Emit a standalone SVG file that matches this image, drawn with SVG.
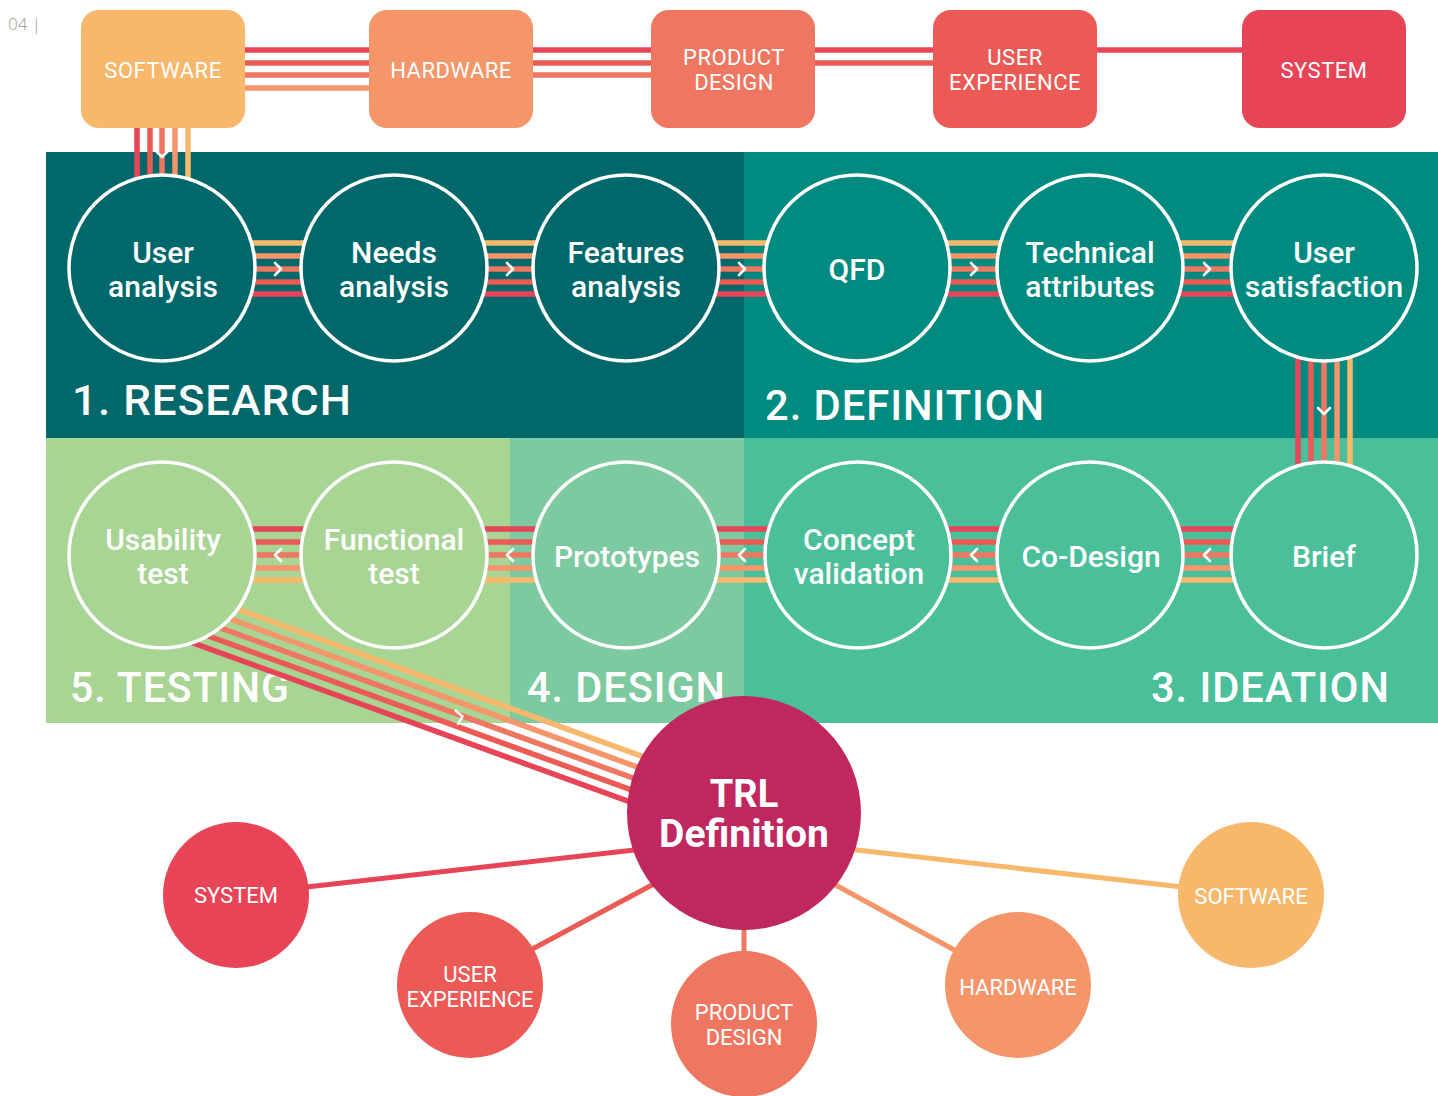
<svg xmlns="http://www.w3.org/2000/svg" width="1438" height="1096" viewBox="0 0 1438 1096">
<defs>
<style>
text{font-family:Roboto,"Open Sans","Liberation Sans",sans-serif;fill:#fff;text-anchor:middle}
.box{font-size:22px;letter-spacing:0.5px}
.lbl{font-size:30px;font-weight:500}
.sec{font-size:43px;text-anchor:start;letter-spacing:1px;font-weight:500}
.bot{font-size:22px}
.ring{stroke:#fff;stroke-width:3.5}
.c1{stroke:#F8B86C}.c2{stroke:#F4956A}.c3{stroke:#EF7660}.c4{stroke:#EB5A55}.c5{stroke:#E84457}
.ln{stroke-width:5.5;fill:none}
.thin{stroke-width:5;fill:none}
.chev{stroke:#fff;stroke-width:2.6;fill:none;stroke-linecap:round;stroke-linejoin:round}
</style>
</defs>
<rect width="1438" height="1096" fill="#fff"/>
<text x="8" y="30" style="font-size:17px;fill:#9a9a9a;text-anchor:start;font-family:'Open Sans',Roboto,sans-serif;font-weight:300">04 |</text>

<g id="sections">
<rect x="46" y="152" width="698" height="286" fill="#00676A"/>
<rect x="744" y="152" width="694" height="286" fill="#008A80"/>
<rect x="46" y="438" width="464" height="285" fill="#A8D494"/>
<rect x="510" y="438" width="234" height="285" fill="#7DC9A0"/>
<rect x="744" y="438" width="694" height="285" fill="#4ABF99"/>
<text class="sec" x="72" y="415" textLength="280" lengthAdjust="spacingAndGlyphs">1. RESEARCH</text>
<text class="sec" x="765" y="420" textLength="280" lengthAdjust="spacingAndGlyphs">2. DEFINITION</text>
<text class="sec" x="70" y="702" textLength="220" lengthAdjust="spacingAndGlyphs">5. TESTING</text>
<text class="sec" x="527" y="702" textLength="199" lengthAdjust="spacingAndGlyphs">4. DESIGN</text>
<text class="sec" x="1151" y="702" textLength="239" lengthAdjust="spacingAndGlyphs">3. IDEATION</text>
</g>

<g id="connectors">
<!-- top bar -->
<line class="ln c5" x1="200" y1="50" x2="1300" y2="50"/>
<line class="ln c4" x1="200" y1="63" x2="1000" y2="63"/>
<line class="ln c3" x1="200" y1="75" x2="700" y2="75"/>
<line class="ln c2" x1="200" y1="88" x2="420" y2="88"/>
<!-- software down -->
<line class="ln c5" x1="137" y1="110" x2="137" y2="200"/>
<line class="ln c4" x1="150" y1="110" x2="150" y2="200"/>
<line class="ln c3" x1="162" y1="110" x2="162" y2="200"/>
<line class="ln c2" x1="175" y1="110" x2="175" y2="200"/>
<line class="ln c1" x1="188" y1="110" x2="188" y2="200"/>
<polyline class="chev" points="156,151 162,157 168,151"/>
<!-- row 1 -->
<line class="ln c1" x1="162" y1="243" x2="1324" y2="243"/>
<line class="ln c2" x1="162" y1="256" x2="1324" y2="256"/>
<line class="ln c3" x1="162" y1="269" x2="1324" y2="269"/>
<line class="ln c4" x1="162" y1="282" x2="1324" y2="282"/>
<line class="ln c5" x1="162" y1="294" x2="1324" y2="294"/>
<polyline class="chev" points="275,263 281,269 275,275"/>
<polyline class="chev" points="507,263 513,269 507,275"/>
<polyline class="chev" points="739,263 745,269 739,275"/>
<polyline class="chev" points="971,263 977,269 971,275"/>
<polyline class="chev" points="1204,263 1210,269 1204,275"/>
<!-- vertical to brief -->
<line class="ln c5" x1="1298" y1="300" x2="1298" y2="520"/>
<line class="ln c4" x1="1311" y1="300" x2="1311" y2="520"/>
<line class="ln c3" x1="1324" y1="300" x2="1324" y2="520"/>
<line class="ln c2" x1="1337" y1="300" x2="1337" y2="520"/>
<line class="ln c1" x1="1350" y1="300" x2="1350" y2="520"/>
<polyline class="chev" points="1318,408 1324,414 1330,408"/>
<!-- row 2 -->
<line class="ln c5" x1="162" y1="529" x2="1324" y2="529"/>
<line class="ln c4" x1="162" y1="542" x2="1324" y2="542"/>
<line class="ln c3" x1="162" y1="555" x2="1324" y2="555"/>
<line class="ln c2" x1="162" y1="568" x2="1324" y2="568"/>
<line class="ln c1" x1="162" y1="580" x2="1324" y2="580"/>
<polyline class="chev" points="281,549 275,555 281,561"/>
<polyline class="chev" points="513,549 507,555 513,561"/>
<polyline class="chev" points="745,549 739,555 745,561"/>
<polyline class="chev" points="977,549 971,555 977,561"/>
<polyline class="chev" points="1210,549 1204,555 1210,561"/>
<!-- diagonal to TRL -->
<line class="ln c1" x1="162" y1="581.6" x2="744" y2="793.4"/>
<line class="ln c2" x1="162" y1="594.1" x2="744" y2="805.9"/>
<line class="ln c3" x1="162" y1="606.6" x2="744" y2="818.4"/>
<line class="ln c4" x1="162" y1="619.1" x2="744" y2="830.9"/>
<line class="ln c5" x1="162" y1="631.6" x2="744" y2="843.4"/>
<polyline class="chev" points="455.5,710.5 462.5,716.5 458,724" style="stroke-width:2.4"/>
<!-- TRL spokes -->
<line class="thin c5" x1="280" y1="890" x2="670" y2="846"/>
<line class="thin c4" x1="510" y1="961" x2="680" y2="870"/>
<line class="thin c3" x1="744" y1="900" x2="744" y2="970"/>
<line class="thin c2" x1="810" y1="871" x2="980" y2="964"/>
<line class="thin c1" x1="830" y1="847" x2="1200" y2="889"/>
</g>

<g id="top-software"><rect x="81" y="10" width="164" height="118" rx="18" fill="#F8B86C"/><text class="box" x="163" y="78">SOFTWARE</text></g>
<g id="top-hardware"><rect x="369" y="10" width="164" height="118" rx="18" fill="#F4956A"/><text class="box" x="451" y="78">HARDWARE</text></g>
<g id="top-product-design"><rect x="651" y="10" width="164" height="118" rx="18" fill="#EF7660"/><text class="box" x="734" y="65">PRODUCT</text><text class="box" x="734" y="90">DESIGN</text></g>
<g id="top-user-experience"><rect x="933" y="10" width="164" height="118" rx="18" fill="#EB5A55"/><text class="box" x="1015" y="65">USER</text><text class="box" x="1015" y="90">EXPERIENCE</text></g>
<g id="top-system"><rect x="1242" y="10" width="164" height="118" rx="18" fill="#E84457"/><text class="box" x="1324" y="78">SYSTEM</text></g>

<g id="user-analysis"><circle class="ring" cx="162" cy="268" r="93" fill="#00676A"/><text class="lbl" x="163" y="263">User</text><text class="lbl" x="163" y="297">analysis</text></g>
<g id="needs-analysis"><circle class="ring" cx="394" cy="268" r="93" fill="#00676A"/><text class="lbl" x="394" y="263">Needs</text><text class="lbl" x="394" y="297">analysis</text></g>
<g id="features-analysis"><circle class="ring" cx="626" cy="268" r="93" fill="#00676A"/><text class="lbl" x="626" y="263">Features</text><text class="lbl" x="626" y="297">analysis</text></g>
<g id="qfd"><circle class="ring" cx="857" cy="268" r="93" fill="#008A80"/><text class="lbl" x="857" y="280">QFD</text></g>
<g id="technical-attributes"><circle class="ring" cx="1090" cy="268" r="93" fill="#008A80"/><text class="lbl" x="1090" y="263">Technical</text><text class="lbl" x="1090" y="297">attributes</text></g>
<g id="user-satisfaction"><circle class="ring" cx="1324" cy="268" r="93" fill="#008A80"/><text class="lbl" x="1324" y="263">User</text><text class="lbl" x="1324" y="297">satisfaction</text></g>

<g id="usability-test"><circle class="ring" cx="162" cy="555" r="93" fill="#A8D494"/><text class="lbl" x="163" y="550">Usability</text><text class="lbl" x="163" y="584">test</text></g>
<g id="functional-test"><circle class="ring" cx="394" cy="555" r="93" fill="#A8D494"/><text class="lbl" x="394" y="550">Functional</text><text class="lbl" x="394" y="584">test</text></g>
<g id="prototypes"><circle class="ring" cx="626" cy="555" r="93" fill="#7DC9A0"/><text class="lbl" x="627" y="567">Prototypes</text></g>
<g id="concept-validation"><circle class="ring" cx="858" cy="555" r="93" fill="#4ABF99"/><text class="lbl" x="859" y="550">Concept</text><text class="lbl" x="859" y="584">validation</text></g>
<g id="co-design"><circle class="ring" cx="1090" cy="555" r="93" fill="#4ABF99"/><text class="lbl" x="1091" y="567">Co-Design</text></g>
<g id="brief"><circle class="ring" cx="1324" cy="555" r="93" fill="#4ABF99"/><text class="lbl" x="1324" y="567">Brief</text></g>

<g id="trl-definition"><circle cx="744" cy="813" r="117" fill="#C0275F"/><text x="744" y="807" style="font-size:38px;font-weight:700">TRL</text><text x="744" y="847" style="font-size:38px;font-weight:700" textLength="170" lengthAdjust="spacingAndGlyphs">Definition</text></g>

<g id="bottom-system"><circle cx="236" cy="895" r="73" fill="#E84457"/><text class="bot" x="236" y="903">SYSTEM</text></g>
<g id="bottom-user-experience"><circle cx="470" cy="985" r="73" fill="#EB5A55"/><text class="bot" x="470" y="982">USER</text><text class="bot" x="470" y="1007">EXPERIENCE</text></g>
<g id="bottom-product-design"><circle cx="744" cy="1024" r="73" fill="#EF7660"/><text class="bot" x="744" y="1020">PRODUCT</text><text class="bot" x="744" y="1045">DESIGN</text></g>
<g id="bottom-hardware"><circle cx="1018" cy="985" r="73" fill="#F4956A"/><text class="bot" x="1018" y="995">HARDWARE</text></g>
<g id="bottom-software"><circle cx="1251" cy="895" r="73" fill="#F8B86C"/><text class="bot" x="1251" y="904">SOFTWARE</text></g>
</svg>
